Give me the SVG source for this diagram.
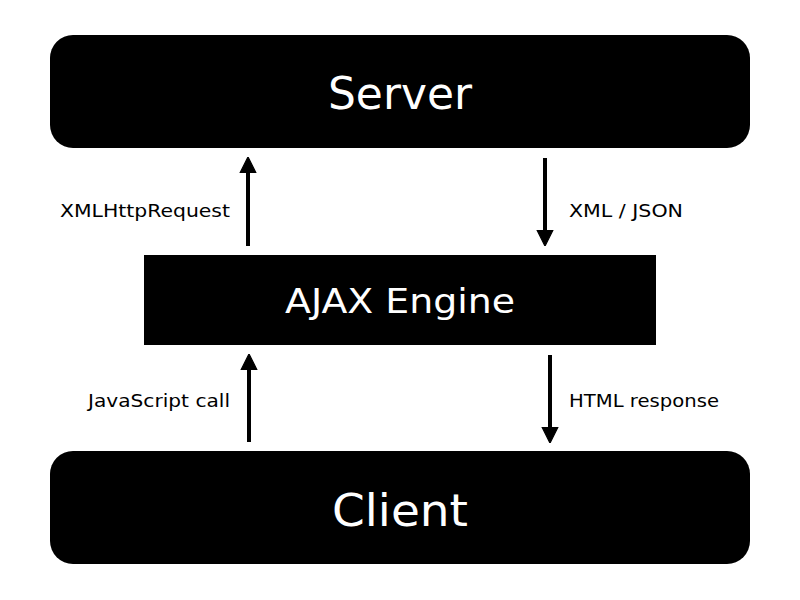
<svg xmlns="http://www.w3.org/2000/svg" width="800" height="600" viewBox="0 0 800 600">
<style>
.box{fill:#000}
.title{fill:#fff;font-family:"DejaVu Sans","Open Sans",sans-serif;text-anchor:middle}
.lbl{fill:#000;font-family:"DejaVu Sans","Open Sans",sans-serif;font-size:18px}
.conn{stroke:#000;stroke-width:4;fill:none;marker-end:url(#ah)}
</style>
<defs>
<marker id="ah" viewBox="0 0 10 10" refX="5" refY="5" markerWidth="4" markerHeight="5.25" markerUnits="strokeWidth" orient="auto">
<path d="M0,0 L10,5 L0,10 z" fill="#000" stroke="#000" stroke-width="0.8" stroke-linejoin="round"/>
</marker>
</defs>
<rect width="800" height="600" fill="#fff"/>
<g id="server">
<rect class="box" x="50" y="35" width="700" height="113" rx="23"/>
<text class="title" x="400" y="109" font-size="44" textLength="144" lengthAdjust="spacingAndGlyphs">Server</text>
</g>
<g id="ajax">
<rect class="box" x="144" y="255" width="512" height="90"/>
<text class="title" x="400" y="313" font-size="33" textLength="230" lengthAdjust="spacingAndGlyphs">AJAX Engine</text>
</g>
<g id="client">
<rect class="box" x="50" y="451" width="700" height="113" rx="23"/>
<text class="title" x="400" y="526" font-size="44" textLength="136" lengthAdjust="spacingAndGlyphs">Client</text>
</g>
<g id="connectors">
<line class="conn" x1="248" y1="246" x2="248" y2="165"/>
<line class="conn" x1="545" y1="158" x2="545" y2="238"/>
<line class="conn" x1="249" y1="442" x2="249" y2="362"/>
<line class="conn" x1="550" y1="355" x2="550" y2="435"/>
<text class="lbl" x="60" y="217" textLength="170" lengthAdjust="spacingAndGlyphs">XMLHttpRequest</text>
<text class="lbl" x="569" y="217" textLength="114" lengthAdjust="spacingAndGlyphs">XML / JSON</text>
<text class="lbl" x="88" y="407" textLength="142" lengthAdjust="spacingAndGlyphs">JavaScript call</text>
<text class="lbl" x="569" y="407" textLength="150" lengthAdjust="spacingAndGlyphs">HTML response</text>
</g>
</svg>
